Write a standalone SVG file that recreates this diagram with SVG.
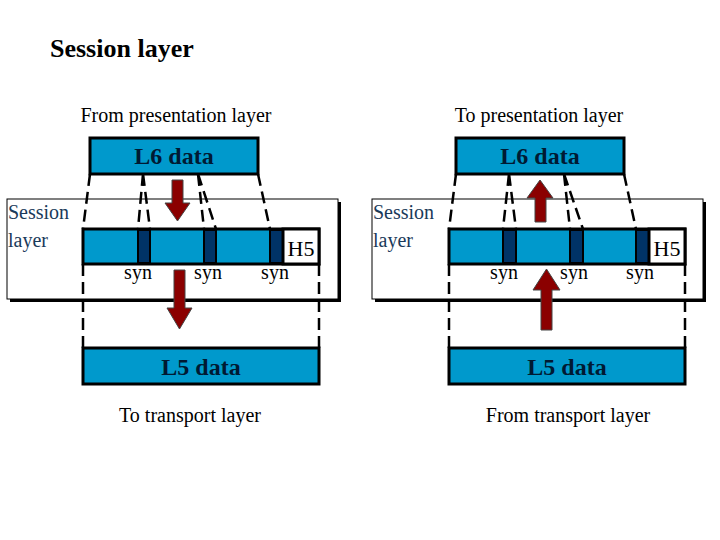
<svg xmlns="http://www.w3.org/2000/svg" width="720" height="540" viewBox="0 0 720 540">
<style>
.t{font-family:"Liberation Serif",serif;fill:#000}
.b{fill:#0099cc;stroke:#000;stroke-width:3}
.s{fill:#003366;stroke:#000;stroke-width:2}
.h{fill:#fff;stroke:#000;stroke-width:3}
.f{fill:#fff;stroke:#000;stroke-width:1}
.d{stroke:#000;stroke-width:2.5;stroke-dasharray:12,6;fill:none}
.a{fill:#8b0000;stroke:#444;stroke-width:1}
.lbl{font-family:"Liberation Serif",serif;font-weight:bold;font-size:24px;fill:#001a33}
.syn{font-family:"Liberation Serif",serif;font-size:20px}
.sl{font-family:"Liberation Serif",serif;font-size:20px;fill:#1a3a5a}
</style>
<rect width="720" height="540" fill="#fff"/>
<text class="t" x="50" y="57" font-size="26" font-weight="bold">Session layer</text>
<text class="t" x="176" y="122" font-size="20" text-anchor="middle">From presentation layer</text>
<text class="t" x="539" y="122" font-size="20" text-anchor="middle">To presentation layer</text>
<text class="t" x="190" y="422" font-size="20" text-anchor="middle">To transport layer</text>
<text class="t" x="568" y="422" font-size="20" text-anchor="middle">From transport layer</text>
<g id="frameL"><rect x="10" y="202" width="331" height="100" fill="#000"/><rect class="f" x="7" y="199" width="331" height="100"/><text class="sl" x="8" y="219">Session</text><text class="sl" x="8" y="247">layer</text></g>
<g id="frameR"><rect x="375" y="202" width="331" height="100" fill="#000"/><rect class="f" x="372" y="199" width="331" height="100"/><text class="sl" x="373" y="219">Session</text><text class="sl" x="373" y="247">layer</text></g>
<g id="connectors">
<path class="d" d="M90 174L83 229M143 174L138 229M143 174L150 229M198 174L204 229M198 174L216 229M258 174L270 229M83 264V348M319 264V348"/>
<path class="d" d="M456 174L449 229M509 174L503 229M509 174L516 229M564 174L570 229M564 174L583 229M624 174L636 229M449 264V348M685 264V348"/>
</g>
<g id="L6left"><rect class="b" x="90" y="138" width="168" height="36"/><text class="lbl" x="174" y="164" text-anchor="middle">L6 data</text></g>
<g id="L6right"><rect class="b" x="456" y="138" width="168" height="36"/><text class="lbl" x="540" y="164" text-anchor="middle">L6 data</text></g>
<g id="barL"><rect class="b" x="83" y="229" width="236" height="35"/><rect class="s" x="138" y="230" width="12" height="33"/><rect class="s" x="204" y="230" width="12" height="33"/><rect class="s" x="270" y="230" width="13" height="33"/><rect class="h" x="283" y="229" width="36" height="35"/><text class="t" x="301" y="256" font-size="22" text-anchor="middle">H5</text>
<text class="syn" x="138" y="279" text-anchor="middle">syn</text><text class="syn" x="208" y="279" text-anchor="middle">syn</text><text class="syn" x="275" y="279" text-anchor="middle">syn</text></g>
<g id="barR"><rect class="b" x="449" y="229" width="236" height="35"/><rect class="s" x="503" y="230" width="13" height="33"/><rect class="s" x="570" y="230" width="13" height="33"/><rect class="s" x="636" y="230" width="13" height="33"/><rect class="h" x="649" y="229" width="36" height="35"/><text class="t" x="667" y="256" font-size="22" text-anchor="middle">H5</text>
<text class="syn" x="504" y="279" text-anchor="middle">syn</text><text class="syn" x="574" y="279" text-anchor="middle">syn</text><text class="syn" x="640" y="279" text-anchor="middle">syn</text></g>
<g id="L5left"><rect class="b" x="83" y="348" width="236" height="36"/><text class="lbl" x="201" y="375" text-anchor="middle">L5 data</text></g>
<g id="L5right"><rect class="b" x="449" y="348" width="236" height="36"/><text class="lbl" x="567" y="375" text-anchor="middle">L5 data</text></g>
<g id="arrows">
<path class="a" d="M172 180H183V203H190L177.5 221L165 203H172Z"/>
<path class="a" d="M174 270H185V308H192L179.5 329L167 308H174Z"/>
<path class="a" d="M535 222H546V198H553L540 180L527 198H535Z"/>
<path class="a" d="M541 330H552V290H560L546.5 269L533 290H541Z"/>
</g>
</svg>
